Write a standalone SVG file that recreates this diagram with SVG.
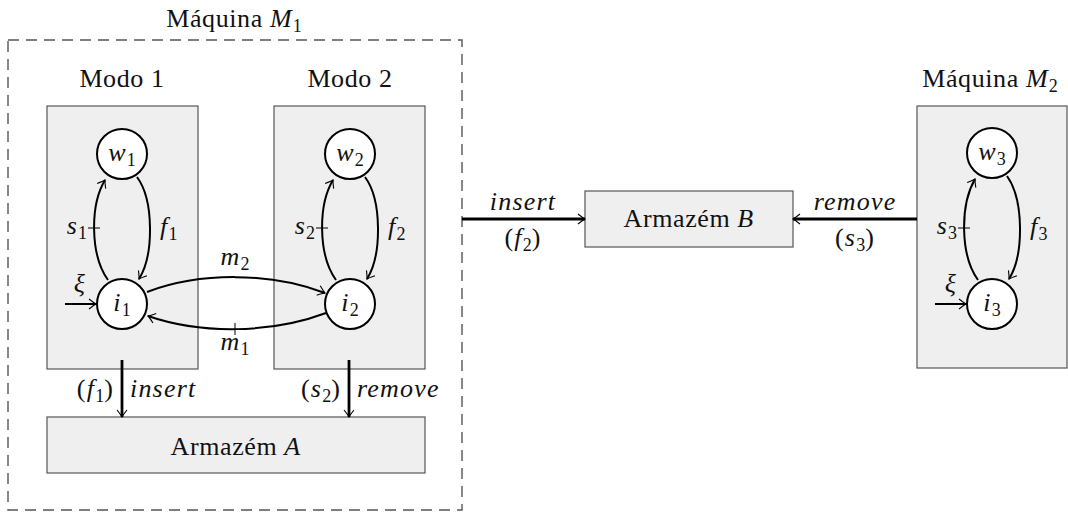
<svg xmlns="http://www.w3.org/2000/svg" width="1068" height="512" viewBox="0 0 1068 512" font-family="'Liberation Serif', 'Times New Roman', serif">
  <style>
    .txt { font-size: 26px; letter-spacing: 0.6px; fill: #111; }
    .math { font-size: 26px; font-style: italic; letter-spacing: 1.2px; fill: #111; }
    .sub { font-size: 18px; font-style: normal; letter-spacing: 0; }
    .up { font-style: normal; }
    .box { fill: #efefef; stroke: #555; stroke-width: 1.2; }
    .frame { fill: none; stroke: #555; stroke-width: 1.4; stroke-dasharray: 11 7; }
    .state { fill: #fff; stroke: #000; stroke-width: 2; }
    .edge { fill: none; stroke: #000; stroke-width: 2; }
    .thick { fill: none; stroke: #000; stroke-width: 2.8; }
    .tick { stroke: #000; stroke-width: 1; }
  </style>
  <defs>
    <marker id="to" markerUnits="userSpaceOnUse" markerWidth="14" markerHeight="14" refX="0" refY="0" viewBox="-8 -7 10 14" orient="auto">
      <path d="M-7,-5 Q-2,-1 0,0 Q-2,1 -7,5" fill="none" stroke="#000" stroke-width="1.1"/>
    </marker>
  </defs>

  <!-- machine M1 outline -->
  <g id="machine1">
    <rect class="frame" x="8" y="40" width="454" height="470"/>
    <text class="txt" x="234" y="27" text-anchor="middle">Máquina <tspan class="math">M</tspan><tspan class="sub" dy="5">1</tspan></text>
  </g>

  <!-- mode 1 -->
  <g id="mode1">
    <rect class="box" x="47" y="106" width="151" height="263"/>
    <text class="txt" x="122" y="87" text-anchor="middle">Modo 1</text>
  </g>

  <!-- mode 2 -->
  <g id="mode2">
    <rect class="box" x="274" y="106" width="151" height="263"/>
    <text class="txt" x="350" y="87" text-anchor="middle">Modo 2</text>
  </g>

  <!-- machine M2 -->
  <g id="machine2">
    <rect class="box" x="917" y="106" width="150" height="262"/>
    <text class="txt" x="990" y="87" text-anchor="middle">Máquina <tspan class="math">M</tspan><tspan class="sub" dy="5">2</tspan></text>
  </g>

  <!-- stores -->
  <g id="storeA">
    <rect class="box" x="47" y="417" width="378" height="56"/>
    <text class="txt" x="236" y="455" text-anchor="middle">Armazém <tspan class="math">A</tspan></text>
  </g>
  <g id="storeB">
    <rect class="box" x="585" y="191" width="208" height="56"/>
    <text class="txt" x="689" y="227" text-anchor="middle">Armazém <tspan class="math">B</tspan></text>
  </g>

  <!-- states -->
  <g id="w1"><circle class="state" cx="122" cy="154" r="25"/><text class="math" x="122" y="161" text-anchor="middle">w<tspan class="sub" dy="5">1</tspan></text></g>
  <g id="i1"><circle class="state" cx="122" cy="304" r="25"/><text class="math" x="122" y="311" text-anchor="middle">i<tspan class="sub" dy="5">1</tspan></text></g>
  <g id="w2"><circle class="state" cx="350" cy="154" r="25"/><text class="math" x="350" y="161" text-anchor="middle">w<tspan class="sub" dy="5">2</tspan></text></g>
  <g id="i2"><circle class="state" cx="350" cy="304" r="25"/><text class="math" x="350" y="311" text-anchor="middle">i<tspan class="sub" dy="5">2</tspan></text></g>
  <g id="w3"><circle class="state" cx="992" cy="153" r="25"/><text class="math" x="992" y="160" text-anchor="middle">w<tspan class="sub" dy="5">3</tspan></text></g>
  <g id="i3"><circle class="state" cx="992" cy="304" r="25"/><text class="math" x="992" y="311" text-anchor="middle">i<tspan class="sub" dy="5">3</tspan></text></g>

  <!-- connectors -->
  <g id="connectors">
    <!-- mode 1 loop -->
    <path class="edge" d="M108,280 C90,255 90,205 105,180" marker-end="url(#to)"/>
    <path class="edge" d="M137,177 C154,200 154,255 139,279" marker-end="url(#to)"/>
    <line class="tick" x1="88" y1="228" x2="100" y2="228"/>
    <text class="math" x="87" y="234" text-anchor="end">s<tspan class="sub" dy="5">1</tspan></text>
    <text class="math" x="160" y="235">f<tspan class="sub" dy="5">1</tspan></text>
    <line class="edge" x1="65" y1="304" x2="96" y2="304" marker-end="url(#to)"/>
    <text class="math" x="80" y="292" text-anchor="middle">ξ</text>

    <!-- mode 2 loop -->
    <path class="edge" d="M336,280 C318,255 318,205 333,180" marker-end="url(#to)"/>
    <path class="edge" d="M365,177 C382,200 382,255 367,279" marker-end="url(#to)"/>
    <line class="tick" x1="316" y1="228" x2="328" y2="228"/>
    <text class="math" x="315" y="234" text-anchor="end">s<tspan class="sub" dy="5">2</tspan></text>
    <text class="math" x="388" y="235">f<tspan class="sub" dy="5">2</tspan></text>

    <!-- mode changes -->
    <path class="edge" d="M147,292 C200,272 270,272 325,293" marker-end="url(#to)"/>
    <path class="edge" d="M326,313 C270,334 200,334 148,316" marker-end="url(#to)"/>
    <line class="tick" x1="235" y1="323" x2="235" y2="335"/>
    <text class="math" x="235" y="265" text-anchor="middle">m<tspan class="sub" dy="5">2</tspan></text>
    <text class="math" x="235" y="350" text-anchor="middle">m<tspan class="sub" dy="5">1</tspan></text>

    <!-- machine M2 loop -->
    <path class="edge" d="M978,280 C960,255 960,205 975,179" marker-end="url(#to)"/>
    <path class="edge" d="M1007,176 C1024,200 1024,255 1009,279" marker-end="url(#to)"/>
    <line class="tick" x1="958" y1="228" x2="970" y2="228"/>
    <text class="math" x="957" y="234" text-anchor="end">s<tspan class="sub" dy="5">3</tspan></text>
    <text class="math" x="1030" y="235">f<tspan class="sub" dy="5">3</tspan></text>
    <line class="edge" x1="935" y1="304" x2="966" y2="304" marker-end="url(#to)"/>
    <text class="math" x="951" y="292" text-anchor="middle">ξ</text>

    <!-- store A accesses -->
    <line class="thick" x1="122" y1="360" x2="122" y2="417" marker-end="url(#to)"/>
    <text class="math" x="114" y="397" text-anchor="end"><tspan class="up">(</tspan>f<tspan class="sub" dy="5">1</tspan><tspan class="up" dy="-5">)</tspan></text>
    <text class="math" x="130" y="397">insert</text>
    <line class="thick" x1="349" y1="360" x2="349" y2="417" marker-end="url(#to)"/>
    <text class="math" x="341" y="397" text-anchor="end"><tspan class="up">(</tspan>s<tspan class="sub" dy="5">2</tspan><tspan class="up" dy="-5">)</tspan></text>
    <text class="math" x="357" y="397">remove</text>

    <!-- store B accesses -->
    <line class="thick" x1="462" y1="219" x2="585" y2="219" marker-end="url(#to)"/>
    <text class="math" x="523" y="210" text-anchor="middle">insert</text>
    <text class="math" x="523" y="246" text-anchor="middle"><tspan class="up">(</tspan>f<tspan class="sub" dy="5">2</tspan><tspan class="up" dy="-5">)</tspan></text>
    <line class="thick" x1="917" y1="219" x2="793" y2="219" marker-end="url(#to)"/>
    <text class="math" x="855" y="210" text-anchor="middle">remove</text>
    <text class="math" x="855" y="246" text-anchor="middle"><tspan class="up">(</tspan>s<tspan class="sub" dy="5">3</tspan><tspan class="up" dy="-5">)</tspan></text>
  </g>
</svg>
